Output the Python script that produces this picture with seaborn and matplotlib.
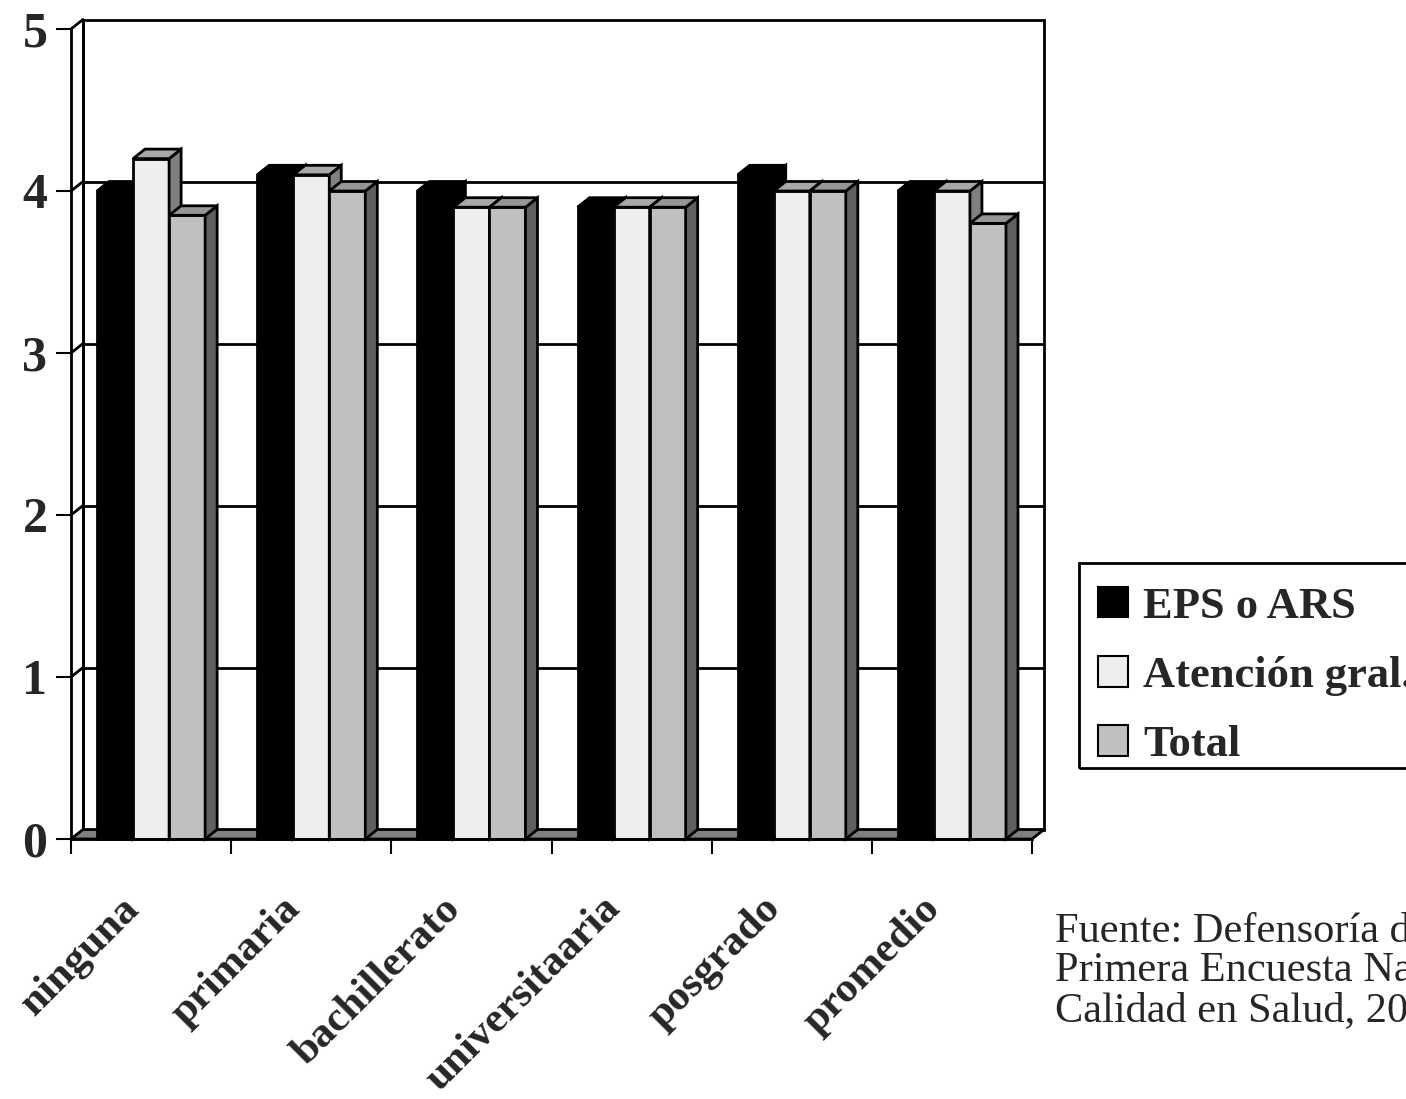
import numpy as np
import pandas as pd
import matplotlib
matplotlib.use("Agg")
import matplotlib.pyplot as plt
import matplotlib.transforms as mtransforms
from matplotlib.patches import Polygon, Patch, Rectangle
import seaborn as sns

# ---- data -------------------------------------------------------------
categorias = ["ninguna", "primaria", "bachillerato", "universitaaria", "posgrado", "promedio"]
series = ["EPS o ARS", "Atención gral.", "Total"]
eps_ars = [4.0, 4.1, 4.0, 3.9, 4.1, 4.0]
atencion_gral = [4.2, 4.1, 3.9, 3.9, 4.0, 4.0]
total = [3.85, 4.0, 3.9, 3.9, 4.0, 3.8]
y_ticks = [0, 1, 2, 3, 4, 5]
fuente = ["Fuente: Defensoría del Pueblo,",
          "Primera Encuesta Nacional de",
          "Calidad en Salud, 2000"]

valores = {"EPS o ARS": eps_ars, "Atención gral.": atencion_gral, "Total": total}
df = pd.DataFrame([
    {"categoria": c, "serie": s, "valor": valores[s][k]}
    for s in series for k, c in enumerate(categorias)
])

# ---- style ------------------------------------------------------------
front_colors = ["#000000", "#EEEEEE", "#C0C0C0"]
top_colors = ["#000000", "#A8A8A8", "#969696"]
side_colors = ["#000000", "#808080", "#606060"]

sns.set_style("white")
plt.rcParams["font.family"] = ["Liberation Serif", "DejaVu Serif"]

W, H = 1406, 1099
fig = plt.figure(figsize=(W / 100, H / 100), dpi=100)
fig.patch.set_facecolor("white")

# front plane of the pseudo-3D box, in pixels
x_left, x_right, y_zero, y_top = 71, 1032, 839, 29
ax = fig.add_axes([x_left / W, (H - y_zero) / H,
                   (x_right - x_left) / W, (y_zero - y_top) / H])
ax.patch.set_alpha(0)

sns.barplot(data=df, x="categoria", y="valor", hue="serie",
            order=categorias, hue_order=series, palette=front_colors,
            width=0.675, edgecolor="black", linewidth=2, saturation=1,
            legend=False, ax=ax)

ax.set_xlim(-0.5, 5.5)
ax.set_ylim(0, 5)

# depth offset (pixels -> data units)
px_x = (x_right - x_left) / 6.0
px_y = (y_zero - y_top) / 5.0
DX = 12 / px_x
DY = 9.5 / px_y
LW = 2

# back wall with gridlines
wall = Polygon([(-0.5 + DX, DY), (5.5 + DX, DY), (5.5 + DX, 5 + DY), (-0.5 + DX, 5 + DY)],
               closed=True, fc="white", ec="black", lw=LW, zorder=0.5, clip_on=False)
ax.add_patch(wall)
for k in y_ticks[1:5]:
    ax.plot([-0.5 + DX, 5.5 + DX], [k + DY, k + DY], color="black", lw=LW,
            zorder=0.6, clip_on=False, solid_capstyle="butt")
# side wall edges joining the value axis to the back wall
for k in y_ticks[1:]:
    ax.plot([-0.5, -0.5 + DX], [k, k + DY], color="black", lw=LW,
            zorder=0.6, clip_on=False)
ax.plot([-0.5 + DX, -0.5 + DX], [DY, 5 + DY], color="black", lw=LW,
        zorder=0.6, clip_on=False)

# floor
floor = Polygon([(-0.5, 0), (5.5, 0), (5.5 + DX, DY), (-0.5 + DX, DY)],
                closed=True, fc="#808080", ec="black", lw=LW, zorder=2, clip_on=False)
ax.add_patch(floor)

# top and side faces of every bar
for i, cont in enumerate(ax.containers):
    for rect in cont.patches:
        x0, w, h = rect.get_x(), rect.get_width(), rect.get_height()
        rect.set_zorder(3 + i)
        rect.set_clip_on(False)
        top = Polygon([(x0, h), (x0 + w, h), (x0 + w + DX, h + DY), (x0 + DX, h + DY)],
                      closed=True, fc=top_colors[i], ec="black", lw=LW,
                      zorder=3.5 + i, clip_on=False)
        side = Polygon([(x0 + w, 0), (x0 + w + DX, DY), (x0 + w + DX, h + DY), (x0 + w, h)],
                       closed=True, fc=side_colors[i], ec="black", lw=LW,
                       zorder=3.5 + i, clip_on=False)
        ax.add_patch(side)
        ax.add_patch(top)

# axes lines and ticks
for s in ["top", "right"]:
    ax.spines[s].set_visible(False)
for s in ["left", "bottom"]:
    ax.spines[s].set_color("black")
    ax.spines[s].set_linewidth(LW)
    ax.spines[s].set_zorder(10)
ax.grid(False)

ax.set_yticks(y_ticks)
ax.set_yticklabels([str(v) for v in y_ticks], fontsize=36, fontweight="bold")
ax.set_xticks(np.arange(-0.5, 6.0, 1.0))
ax.set_xticklabels([])
ax.tick_params(axis="both", which="major", direction="out", length=11,
               width=1.5, color="black", left=True, bottom=True)
ax.tick_params(axis="y", pad=6)
ax.set_xlabel("")
ax.set_ylabel("")

# rotated category labels
lab_tr = mtransforms.offset_copy(ax.get_xaxis_transform(), fig=fig,
                                 x=-17, y=-64, units="dots")
for k, c in enumerate(categorias):
    ax.text(k, 0, c, transform=lab_tr, rotation=45, rotation_mode="anchor",
            ha="right", va="center", fontsize=31, fontweight="bold", clip_on=False)

# legend: entries without frame, box drawn separately
handles = [Patch(facecolor=front_colors[i], edgecolor="black", linewidth=1.5)
           for i in range(len(series))]
leg = fig.legend(handles, series, loc="upper left",
                 bbox_to_anchor=(1079 / W, 1 - 568 / H), bbox_transform=fig.transFigure,
                 frameon=False, borderaxespad=0,
                 prop={"family": "Liberation Serif", "weight": "bold", "size": 32},
                 handlelength=0.68, handleheight=0.68, handletextpad=0.34,
                 borderpad=0.42, labelspacing=0.66)
box = Rectangle((1079 / W, 1 - 768 / H), 340 / W, 205 / H,
                transform=fig.transFigure, fill=False, ec="black", lw=2,
                clip_on=False, zorder=5)
fig.patches.append(box)

# source note (runs past the right edge of the figure)
for line, yb in zip(fuente, [941, 981, 1021]):
    fig.text(1055 / W, 1 - yb / H, line, ha="left", va="baseline",
             fontsize=30.5, family="Liberation Serif")

fig.savefig("out.png", dpi=100)
